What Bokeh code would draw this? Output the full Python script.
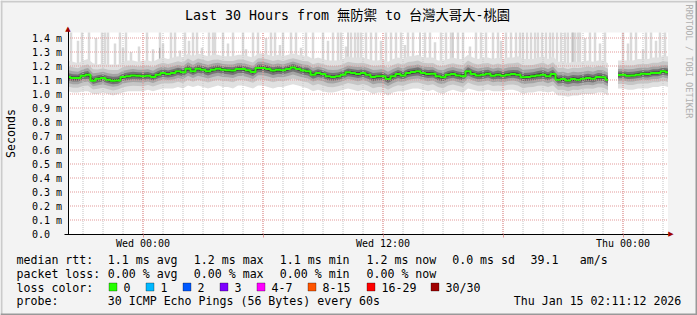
import numpy as np
from math import pi
from bokeh.plotting import figure
from bokeh.models import (Range1d, FixedTicker, LinearAxis, Label, BoxAnnotation,
                          ColumnDataSource)
from bokeh.embed import file_html
from bokeh.resources import INLINE

nan = float("nan")

# ---------------- data ----------------
# minutes since graph start (Tue 2026-01-13 20:15), one value every 15 minutes
times = list(range(0, 1801, 15))

median_ms = [
    1.121, 1.114, 1.114, 1.130, 1.138, 1.095, 1.109, 1.114, 1.102, 1.095,
    1.097, 1.121, 1.126, 1.133, 1.131, 1.126, 1.131, 1.121, 1.138, 1.150,
    1.143, 1.150, 1.162, 1.155, 1.181, 1.162, 1.181, 1.174, 1.162, 1.174,
    1.181, 1.174, 1.169, 1.167, 1.179, 1.179, 1.169, 1.157, 1.186, 1.186,
    1.179, 1.167, 1.174, 1.169, 1.179, 1.190, 1.179, 1.167, 1.162, 1.138,
    1.150, 1.143, 1.126, 1.121, 1.126, 1.138, 1.155, 1.150, 1.143, 1.150,
    1.138, 1.121, 1.126, 1.126, 1.107, 1.126, 1.143, 1.133, 1.150, 1.157,
    1.162, 1.150, 1.143, 1.145, 1.126, 1.119, 1.138, 1.143, 1.133, 1.126,
    1.162, 1.143, 1.133, 1.138, 1.145, 1.131, 1.138, 1.131, 1.138, 1.143,
    1.138, 1.119, 1.121, 1.126, 1.133, 1.138, 1.126, 1.143, 1.102, 1.107,
    1.097, 1.107, 1.102, 1.109, 1.114, 1.109, 1.121, 1.119, 1.102, nan,
    1.135, 1.138, 1.131, 1.133, 1.138, 1.145, 1.143, 1.150, 1.150, 1.162,
    1.155]

smoke_lo_ms = [
    1.02, 1.01, 1.01, 1.02, 1.02, 1.00, 1.00, 1.01, 1.00, 0.99,
    1.00, 1.01, 1.02, 1.02, 1.02, 1.02, 1.03, 1.02, 1.03, 1.04,
    1.04, 1.04, 1.05, 1.04, 1.06, 1.05, 1.06, 1.05, 1.04, 1.05,
    1.06, 1.05, 1.05, 1.04, 1.06, 1.06, 1.05, 1.04, 1.06, 1.06,
    1.05, 1.04, 1.05, 1.05, 1.06, 1.07, 1.06, 1.05, 1.04, 1.02,
    1.03, 1.02, 1.01, 1.01, 1.02, 1.03, 1.04, 1.03, 1.02, 1.03,
    1.02, 1.00, 1.01, 1.01, 0.99, 1.01, 1.02, 1.02, 1.03, 1.04,
    1.04, 1.03, 1.02, 1.03, 1.01, 1.00, 1.02, 1.03, 1.02, 1.01,
    1.04, 1.03, 1.02, 1.02, 1.03, 1.02, 1.02, 1.02, 1.03, 1.03,
    1.02, 1.00, 1.01, 1.01, 1.02, 1.02, 1.01, 1.02, 0.99, 0.99,
    0.98, 0.99, 0.99, 1.00, 1.00, 1.00, 1.01, 1.01, 0.99, nan,
    1.04, 1.04, 1.03, 1.03, 1.04, 1.04, 1.04, 1.05, 1.05, 1.06,
    1.05]

smoke_hi_ms = [
    1.24, 1.23, 1.22, 1.24, 1.25, 1.22, 1.21, 1.22, 1.21, 1.21,
    1.21, 1.23, 1.24, 1.24, 1.23, 1.24, 1.24, 1.23, 1.25, 1.26,
    1.25, 1.26, 1.27, 1.26, 1.29, 1.27, 1.29, 1.28, 1.27, 1.28,
    1.28, 1.27, 1.27, 1.27, 1.28, 1.28, 1.27, 1.26, 1.29, 1.29,
    1.28, 1.27, 1.28, 1.27, 1.28, 1.29, 1.28, 1.27, 1.27, 1.25,
    1.26, 1.25, 1.24, 1.24, 1.24, 1.25, 1.27, 1.26, 1.26, 1.26,
    1.25, 1.24, 1.24, 1.25, 1.23, 1.25, 1.26, 1.25, 1.27, 1.27,
    1.28, 1.26, 1.26, 1.26, 1.24, 1.24, 1.25, 1.26, 1.25, 1.25,
    1.28, 1.26, 1.25, 1.26, 1.26, 1.25, 1.26, 1.25, 1.26, 1.26,
    1.27, 1.25, 1.25, 1.25, 1.26, 1.27, 1.25, 1.27, 1.23, 1.23,
    1.22, 1.23, 1.23, 1.23, 1.24, 1.23, 1.24, 1.24, 1.22, nan,
    1.24, 1.24, 1.24, 1.24, 1.25, 1.25, 1.25, 1.26, 1.26, 1.27,
    1.27]

# outlier pings (light smoke spikes): time in minutes, top in ms
spike_t = [
    9, 30, 42, 63, 84, 102, 111, 120, 141, 156, 165, 174, 189, 213, 237, 255, 276, 285,
    309, 321, 336, 351, 363, 375, 387, 402, 423, 435,
    441, 465, 480, 495, 525, 534, 555, 570, 594, 609, 621, 636, 645, 669, 684, 699,
    714, 735, 765, 780, 795, 810, 819, 834, 849, 861, 870, 879,
    894, 909, 924, 939, 954, 969, 984, 999, 1011, 1020, 1035, 1071, 1086, 1101, 1119,
    1134, 1149, 1170, 1185, 1206, 1224, 1239, 1254, 1275, 1290, 1299, 1314, 1329, 1344,
    1356, 1365, 1377, 1389, 1401, 1410, 1422, 1434, 1446, 1455, 1467, 1479, 1491, 1500,
    1512, 1521, 1530, 1536, 1551, 1566, 1581, 1596, 1611,
    1665, 1680, 1689, 1704, 1725, 1734, 1749, 1764, 1776, 1791]
spike_top = [
    1.45, 1.38, 1.45, 1.45, 1.40, 1.45, 1.45, 1.45, 1.36, 1.45, 1.33, 1.45, 1.30, 1.34, 1.45, 1.32, 1.45, 1.36,
    1.45, 1.45, 1.31, 1.45, 1.38, 1.45, 1.45, 1.33, 1.45, 1.45,
    1.45, 1.45, 1.36, 1.45, 1.45, 1.32, 1.45, 1.45, 1.40, 1.45, 1.45, 1.35, 1.45, 1.45, 1.45, 1.33,
    1.45, 1.45, 1.45, 1.38, 1.45, 1.45, 1.45, 1.34, 1.45, 1.45, 1.45, 1.45,
    1.45, 1.45, 1.45, 1.38, 1.45, 1.45, 1.45, 1.45, 1.35, 1.45, 1.45, 1.45, 1.45, 1.37, 1.45,
    1.45, 1.45, 1.45, 1.45, 1.34, 1.45, 1.45, 1.45, 1.45, 1.45, 1.38, 1.45, 1.45, 1.45,
    1.45, 1.45, 1.45, 1.45, 1.45, 1.45, 1.45, 1.45, 1.45, 1.45, 1.45, 1.45, 1.45, 1.45,
    1.45, 1.45, 1.45, 1.45, 1.40, 1.45, 1.45, 1.36, 1.45,
    1.45, 1.36, 1.45, 1.45, 1.32, 1.45, 1.45, 1.38, 1.45, 1.45]
dark_spike_t = [275, 840, 1056, 1155, 1515]
dark_spike_top = [1.33, 1.45, 1.45, 1.45, 1.45]
spike_base = 1.12

x_tick_pos = [225, 585, 945, 1305, 1665]
x_tick_labels = ["Wed 00:00", "", "Wed 12:00", "", "Thu 00:00"]
hour_ticks = list(range(45, 1800, 60))
y_tick_pos = [0.0, 0.1, 0.2, 0.3, 0.4, 0.5, 0.6, 0.7, 0.8, 0.9, 1.0, 1.1, 1.2, 1.3, 1.4]
y_tick_labels = ["0.0\u00a0\u00a0", "0.1 m", "0.2 m", "0.3 m", "0.4 m", "0.5 m", "0.6 m", "0.7 m",
                 "0.8 m", "0.9 m", "1.0 m", "1.1 m", "1.2 m", "1.3 m", "1.4 m"]

title_text = "Last 30 Hours from 無防禦 to 台灣大哥大-桃園"
rtt_items = ["median rtt:", "1.1 ms avg", "1.2 ms max", "1.1 ms min", "1.2 ms now", "0.0 ms sd", "39.1", "am/s"]
loss_items = ["packet loss:", "0.00 % avg", "0.00 % max", "0.00 % min", "0.00 % now"]
loss_labels = ["0", "1", "2", "3", "4-7", "8-15", "16-29", "30/30"]
loss_colors = ["#26ff00", "#00b8ff", "#0059ff", "#7e00ff", "#ff00ff", "#ff5500", "#ff0000", "#a00000"]
probe_items = ["probe:", "30 ICMP Echo Pings (56 Bytes) every 60s", "Thu Jan 15 02:11:12 2026"]

# ---------------- layout ----------------
W, H = 697, 315
PX0, PX1, PY0, PY1 = 67.5, 667.5, 32.0, 233.5     # graph area in canvas pixels
X0, X1 = 0, 1800                                   # graph area in data units
kx = (X1 - X0) / (PX1 - PX0)                       # minutes per pixel
ky = 0.1 / 14.0                                    # ms per pixel
Y0 = 0.0
Y1 = Y0 + (PY1 - PY0) * ky
x_range = Range1d(X0 - PX0 * kx, X1 + (W - PX1) * kx)
y_range = Range1d(Y0 - (H - PY1) * ky, Y1 + PY0 * ky)

p = figure(width=W, height=H, output_backend="svg", toolbar_location=None,
           x_range=x_range, y_range=y_range, x_axis_type=None, y_axis_type=None,
           min_border=0, min_border_left=0, min_border_right=0, min_border_top=0,
           min_border_bottom=0, background_fill_color="#f3f3f3", border_fill_color="#f3f3f3",
           outline_line_color=None)
p.title.visible = False
p.xgrid.visible = False
p.ygrid.visible = False

MONO = "DejaVu Sans Mono"

# white canvas of the graph
p.quad(left=[X0], right=[X1], bottom=[Y0], top=[Y1], fill_color="white", line_color=None)

# smoke
t = np.array(times, dtype=float)
med = np.array(median_ms, dtype=float)
lo = np.array(smoke_lo_ms, dtype=float)
hi = np.array(smoke_hi_ms, dtype=float)

p.segment(x0=spike_t, y0=[spike_base] * len(spike_t), x1=spike_t,
          y1=np.minimum(spike_top, Y1), line_color="#dadada", line_width=2.5)
p.segment(x0=dark_spike_t, y0=[spike_base] * len(dark_spike_t), x1=dark_spike_t,
          y1=np.minimum(dark_spike_top, Y1), line_color="#a8a8a8", line_width=1)

valid = ~np.isnan(med)
runs = []
start = None
for i, v in enumerate(valid):
    if v and start is None:
        start = i
    if (not v) and start is not None:
        runs.append((start, i))
        start = None
if start is not None:
    runs.append((start, len(valid)))

fracs = [1.0, 0.66, 0.42, 0.24, 0.1]
shades = ["#e0e0e0", "#c6c6c6", "#a4a4a4", "#747474", "#3c3c3c"]
for a, b in runs:
    for f, c in zip(fracs, shades):
        src = ColumnDataSource(dict(x=t[a:b], y1=med[a:b] - f * (med[a:b] - lo[a:b]),
                                    y2=med[a:b] + f * (hi[a:b] - med[a:b])))
        p.varea(x="x", y1="y1", y2="y2", source=src, fill_color=c)

# grid (over the smoke, as rrdtool does)
p.segment(x0=hour_ticks, y0=[Y0] * len(hour_ticks), x1=hour_ticks, y1=[Y1] * len(hour_ticks),
          line_color="#c4c4c4", line_width=1, line_dash="1 1")
p.segment(x0=[X0] * 14, y0=y_tick_pos[1:], x1=[X1] * 14, y1=y_tick_pos[1:],
          line_color="#e39a9a", line_width=1, line_dash="1 1")
p.segment(x0=x_tick_pos, y0=[Y0] * len(x_tick_pos), x1=x_tick_pos, y1=[Y1] * len(x_tick_pos),
          line_color="#ee8c8c", line_width=1, line_dash="1 1")

# median line
for a, b in runs:
    p.step(t[a:b], med[a:b], mode="center", line_color="#26ff00", line_width=2)

# axes (fixed in place at the graph's origin)
xax = LinearAxis(fixed_location=0, bounds=(-12, X1), ticker=FixedTicker(ticks=x_tick_pos),
                 major_label_overrides=dict(zip(x_tick_pos, x_tick_labels)))
xax.axis_line_color = "black"
xax.major_tick_out = 3
xax.major_tick_in = 0
xax.major_tick_line_color = "#e89a9a"
xax.minor_tick_out = 0
xax.minor_tick_in = 0
xax.major_label_standoff = 1
xax.major_label_text_font = MONO
xax.major_label_text_font_size = "10px"
xax.major_label_text_color = "black"
p.add_layout(xax, "below")

yax = LinearAxis(fixed_location=0, bounds=(0, 1.47), ticker=FixedTicker(ticks=y_tick_pos),
                 major_label_overrides=dict(zip(y_tick_pos, y_tick_labels)))
yax.axis_line_color = "black"
yax.major_tick_out = 0
yax.major_tick_in = 0
yax.minor_tick_out = 0
yax.minor_tick_in = 0
yax.major_label_standoff = 6
yax.major_label_text_font = MONO
yax.major_label_text_font_size = "10px"
yax.major_label_text_color = "black"
p.add_layout(yax, "left")


def lab(x, y, text, size="11.6px", align="left", color="black", angle=0, font=MONO):
    p.add_layout(Label(x=x, y=y, x_units="canvas", y_units="canvas", text=text,
                       text_font=font, text_font_size=size, text_align=align,
                       text_baseline="middle", text_color=color, angle=angle))


def box(l, r, tp, bt, color, line=None):
    p.add_layout(BoxAnnotation(left=l, right=r, top=tp, bottom=bt,
                               left_units="canvas", right_units="canvas",
                               top_units="canvas", bottom_units="canvas",
                               fill_color=color, fill_alpha=1.0,
                               line_color=line, line_width=1))


# frame shading
box(0, W, 0, 2, "#cbcbcb")
box(0, 2, 0, H, "#cbcbcb")
box(0, W, H - 2, H, "#999999")
box(W - 2, W, 0, H, "#999999")

# title, axis label, watermark
lab(347, 15, title_text, size="13.3px", align="center",
    font="DejaVu Sans Mono, Noto Sans CJK TC")
lab(10.5, 133, "Seconds", angle=pi / 2, align="center")
lab(688, 4, "RRDTOOL / TOBI OETIKER", size="8.6px", color="#b0b0b0", angle=-pi / 2)

# axis arrows
lab(67.5, 28.5, "\u25b2", size="7px", align="center", color="#a00000", font="DejaVu Sans")
lab(670.5, 233.5, "\u25b6", size="7px", align="center", color="#a00000", font="DejaVu Sans")

# legend
rtt_x = [16, 107.3, 193.3, 279.3, 366, 451.7, 530, 579.3]
for s, x in zip(rtt_items, rtt_x):
    lab(x, 259.3, s)
loss_x = [16, 107.3, 193.3, 279.3, 366]
for s, x in zip(loss_items, loss_x):
    lab(x, 273, s)
lab(16, 287, "loss color:")
box_x = [108.5, 145.5, 182.5, 219.5, 256.5, 307.5, 366.5, 430.5]
for s, c, x in zip(loss_labels, loss_colors, box_x):
    box(x, x + 8, 282.5, 290.5, c, line="black")
    lab(x + 14.5, 287, s)
probe_x = [16, 107.3, 513.3]
for s, x in zip(probe_items, probe_x):
    lab(x, 300.8, s)

open("out.html", "w").write(file_html(p, INLINE))
